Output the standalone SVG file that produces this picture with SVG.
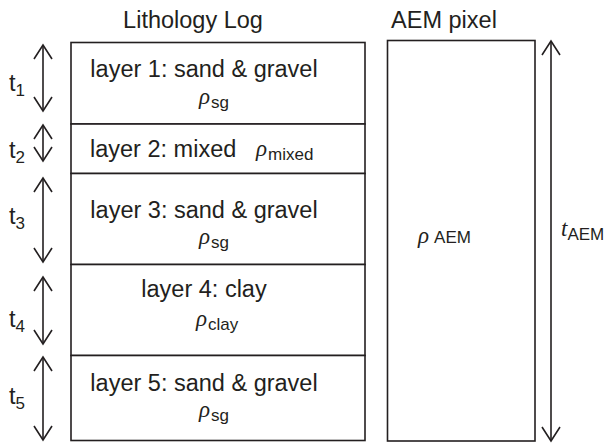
<svg xmlns="http://www.w3.org/2000/svg" width="604" height="445" viewBox="0 0 604 445">
  <style>
    text { font-family: "Liberation Sans", Arial, sans-serif; fill: #231f20; }
    .title { font-size: 23.5px; }
    .lbl { font-size: 23.5px; }
    .rho { font-family: "Liberation Serif", "Times New Roman", serif; font-style: italic; font-size: 23px; }
    .sub { font-size: 17px; }
    .box { fill: #ffffff; stroke: #231f20; stroke-width: 1.6; }
    .edge { stroke: #231f20; stroke-width: 1.6; fill: none; }
  </style>
  <defs>
    <marker id="vhead" markerUnits="userSpaceOnUse" viewBox="-16 -10 18 20" refX="0" refY="0" markerWidth="18" markerHeight="20" orient="auto-start-reverse" overflow="visible">
      <path d="M-14,-9 L0,0 L-14,9" fill="none" stroke="#231f20" stroke-width="1.6"/>
    </marker>
  </defs>

  <rect width="604" height="445" fill="#ffffff"/>

  <!-- column titles -->
  <text class="title" x="193" y="28" text-anchor="middle">Lithology Log</text>
  <text class="title" x="444" y="28" text-anchor="middle">AEM pixel</text>

  <!-- lithology column: one layer per group -->
  <g id="layer1">
    <rect class="box" x="71" y="42.5" width="294" height="81.5"/>
    <text class="lbl" x="204" y="77" text-anchor="middle">layer 1: sand &amp; gravel</text>
    <text x="199" y="104"><tspan class="rho">ρ</tspan><tspan class="sub" dx="1" dy="4">sg</tspan></text>
  </g>
  <g id="layer2">
    <rect class="box" x="71" y="124" width="294" height="49.5"/>
    <text class="lbl" x="90" y="157">layer 2: mixed</text>
    <text x="256" y="156"><tspan class="rho">ρ</tspan><tspan class="sub" dx="1" dy="4">mixed</tspan></text>
  </g>
  <g id="layer3">
    <rect class="box" x="71" y="173.5" width="294" height="91"/>
    <text class="lbl" x="204" y="218" text-anchor="middle">layer 3: sand &amp; gravel</text>
    <text x="199" y="244"><tspan class="rho">ρ</tspan><tspan class="sub" dx="1" dy="4">sg</tspan></text>
  </g>
  <g id="layer4">
    <rect class="box" x="71" y="264.5" width="294" height="91"/>
    <text class="lbl" x="204" y="297" text-anchor="middle">layer 4: clay</text>
    <text x="196" y="326"><tspan class="rho">ρ</tspan><tspan class="sub" dx="1" dy="4">clay</tspan></text>
  </g>
  <g id="layer5">
    <rect class="box" x="71" y="355.5" width="294" height="85"/>
    <text class="lbl" x="204" y="391" text-anchor="middle">layer 5: sand &amp; gravel</text>
    <text x="199" y="417"><tspan class="rho">ρ</tspan><tspan class="sub" dx="1" dy="4">sg</tspan></text>
  </g>

  <!-- single AEM pixel -->
  <g id="aem-pixel">
    <rect class="box" x="387.5" y="40.5" width="147.5" height="400.5"/>
    <text x="418" y="243"><tspan class="rho">ρ</tspan><tspan class="sub" dx="5" dy="0">AEM</tspan></text>
  </g>

  <!-- thickness labels -->
  <g id="thickness-labels">
    <text x="9" y="91"><tspan class="lbl">t</tspan><tspan class="sub" dy="5">1</tspan></text>
    <text x="9" y="158"><tspan class="lbl">t</tspan><tspan class="sub" dy="5">2</tspan></text>
    <text x="9" y="224"><tspan class="lbl">t</tspan><tspan class="sub" dy="5">3</tspan></text>
    <text x="9" y="327"><tspan class="lbl">t</tspan><tspan class="sub" dy="5">4</tspan></text>
    <text x="9" y="404"><tspan class="lbl">t</tspan><tspan class="sub" dy="5">5</tspan></text>
    <text x="561" y="236"><tspan class="rho">t</tspan><tspan class="sub" dy="4">AEM</tspan></text>
  </g>

  <!-- thickness arrows -->
  <g id="connectors">
    <line class="edge" x1="43" y1="45" x2="43" y2="111" marker-start="url(#vhead)" marker-end="url(#vhead)"/>
    <line class="edge" x1="43" y1="125" x2="43" y2="161" marker-start="url(#vhead)" marker-end="url(#vhead)"/>
    <line class="edge" x1="43" y1="178" x2="43" y2="262" marker-start="url(#vhead)" marker-end="url(#vhead)"/>
    <line class="edge" x1="43" y1="277" x2="43" y2="344" marker-start="url(#vhead)" marker-end="url(#vhead)"/>
    <line class="edge" x1="43" y1="357" x2="43" y2="440" marker-start="url(#vhead)" marker-end="url(#vhead)"/>
    <line class="edge" x1="551" y1="41" x2="551" y2="441" marker-start="url(#vhead)" marker-end="url(#vhead)"/>
  </g>
</svg>
